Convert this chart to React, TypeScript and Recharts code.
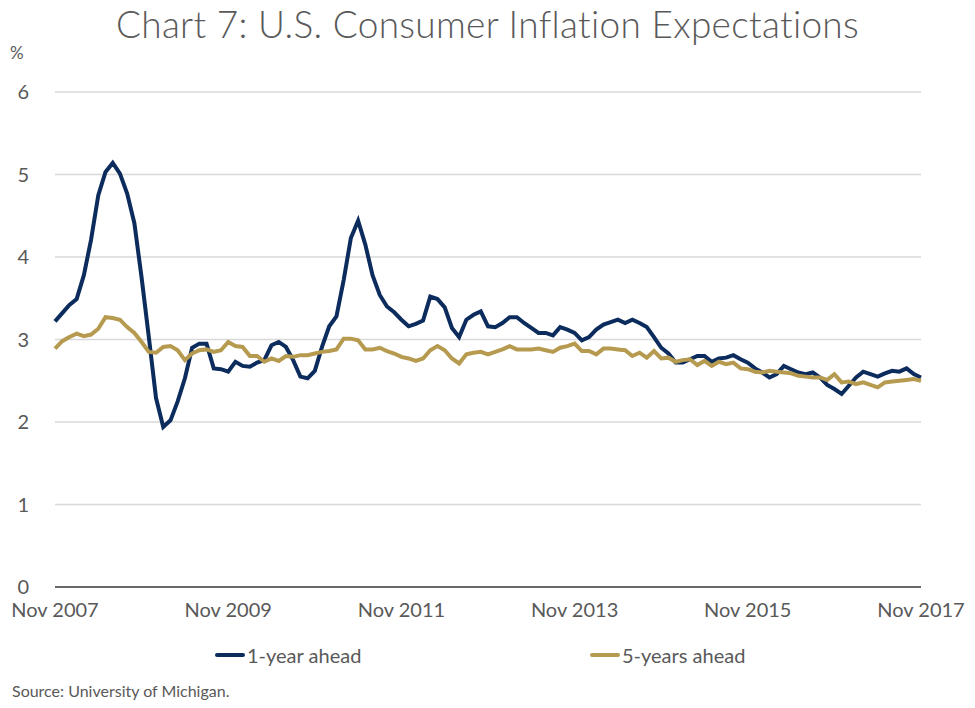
import { LineChart, Line, XAxis, YAxis, CartesianGrid } from 'recharts'

// monthly, Nov 2007 .. Nov 2017
const START_YEAR = 2007
const MONTH_NAMES = ['Jan', 'Feb', 'Mar', 'Apr', 'May', 'Jun', 'Jul', 'Aug', 'Sep', 'Oct', 'Nov', 'Dec']
const MONTHS: string[] = []
for (let i = 0; i <= 120; i++) {
  const m = (10 + i) % 12
  const y = START_YEAR + Math.floor((10 + i) / 12)
  MONTHS.push(`${MONTH_NAMES[m]} ${y}`)
}

const X_TICKS = ['Nov 2007', 'Nov 2009', 'Nov 2011', 'Nov 2013', 'Nov 2015', 'Nov 2017']
const Y_TICKS = [0, 1, 2, 3, 4, 5, 6]

const ONE_YEAR = [
  3.22, 3.32, 3.42, 3.49, 3.78, 4.21, 4.75, 5.03, 5.14, 5.01, 4.77, 4.41, 3.75, 3.03, 2.29, 1.94,
  2.02, 2.25, 2.53, 2.9, 2.95, 2.95, 2.65, 2.64, 2.61, 2.73, 2.68, 2.67, 2.72, 2.75, 2.93, 2.97,
  2.91, 2.75, 2.55, 2.53, 2.62, 2.91, 3.16, 3.28, 3.72, 4.23, 4.44, 4.15, 3.78, 3.54, 3.4, 3.33,
  3.24, 3.16, 3.19, 3.23, 3.52, 3.49, 3.39, 3.14, 3.03, 3.24, 3.3, 3.34, 3.16, 3.15, 3.2, 3.27,
  3.27, 3.2, 3.14, 3.08, 3.08, 3.05, 3.15, 3.12, 3.08, 2.99, 3.03, 3.12, 3.18, 3.21, 3.24, 3.2,
  3.24, 3.2, 3.15, 3.03, 2.9, 2.83, 2.72, 2.72, 2.76, 2.8, 2.8, 2.73, 2.77, 2.78, 2.81, 2.76,
  2.72, 2.65, 2.6, 2.54, 2.58, 2.68, 2.64, 2.6, 2.58, 2.6, 2.54, 2.45, 2.4, 2.34, 2.44, 2.54,
  2.61, 2.58, 2.55, 2.59, 2.62, 2.61, 2.65, 2.58, 2.54,
]

const FIVE_YEARS = [
  2.89, 2.98, 3.03, 3.07, 3.04, 3.06, 3.13, 3.27, 3.26, 3.24, 3.15, 3.08, 2.97, 2.85, 2.84, 2.91,
  2.92, 2.87, 2.75, 2.83, 2.87, 2.88, 2.85, 2.87, 2.97, 2.92, 2.91, 2.8, 2.8, 2.73, 2.77, 2.74,
  2.8, 2.79, 2.81, 2.81, 2.83, 2.85, 2.86, 2.88, 3.01, 3.01, 2.99, 2.88, 2.88, 2.9, 2.86, 2.83,
  2.79, 2.77, 2.74, 2.77, 2.87, 2.92, 2.87, 2.77, 2.71, 2.82, 2.84, 2.85, 2.82, 2.85, 2.88, 2.92,
  2.88, 2.88, 2.88, 2.89, 2.87, 2.85, 2.9, 2.92, 2.95, 2.86, 2.86, 2.82, 2.89, 2.89, 2.88, 2.87,
  2.8, 2.84, 2.78, 2.86, 2.77, 2.78, 2.73, 2.75, 2.76, 2.69, 2.74, 2.68, 2.73, 2.7, 2.72, 2.65,
  2.64, 2.61, 2.6, 2.62, 2.61, 2.6, 2.59, 2.56, 2.55, 2.54, 2.54, 2.51, 2.58, 2.48, 2.49, 2.46,
  2.48, 2.45, 2.42, 2.48, 2.49, 2.5, 2.51, 2.52, 2.5,
]

const BLUE = '#0b2c5c'
const GOLD = '#b59a50'
const TEXT = '#595959'
const FONT = 'Lato, "Open Sans", sans-serif'

const data = MONTHS.map((month, i) => ({ month, oneYear: ONE_YEAR[i], fiveYears: FIVE_YEARS[i] }))

function LegendItem({ color, label, left }: { color: string; label: string; left: number }) {
  return (
    <div style={{ position: 'absolute', left, top: 642, height: 26, display: 'flex', alignItems: 'center' }}>
      <span style={{ width: 30, height: 4, borderRadius: 2, background: color, display: 'inline-block' }} />
      <span style={{ marginLeft: 2, fontSize: 20, color: TEXT }}>{label}</span>
    </div>
  )
}

export default function App() {
  return (
    <div style={{ position: 'absolute', left: 0, top: 0, width: 975, height: 708, background: '#fff', fontFamily: FONT }}>
      <div style={{ position: 'absolute', left: 0, top: 2, width: 975, textAlign: 'center', fontSize: 37, color: TEXT, lineHeight: '44px', fontWeight: 300, letterSpacing: 0.3 }}>
        Chart 7: U.S. Consumer Inflation Expectations
      </div>
      <div style={{ position: 'absolute', left: 10, top: 42, fontSize: 17, color: TEXT }}>%</div>
      <LineChart width={975} height={708} data={data} margin={{ top: 92, right: 54, bottom: 91, left: 0 }}>
        <CartesianGrid vertical={false} stroke="#d9d9d9" strokeWidth={1.5} />
        <XAxis
          dataKey="month"
          ticks={X_TICKS}
          interval={0}
          tickLine={false}
          axisLine={{ stroke: '#404040', strokeWidth: 1.5 }}
          tick={{ fill: TEXT, fontSize: 20, fontFamily: FONT }}
          tickMargin={10}
        />
        <YAxis
          width={55}
          domain={[0, 6]}
          ticks={Y_TICKS}
          axisLine={false}
          tickLine={false}
          tick={{ fill: TEXT, fontSize: 20, fontFamily: FONT }}
          tickMargin={20}
        />
        <Line dataKey="oneYear" stroke={BLUE} strokeWidth={4} dot={false} isAnimationActive={false} />
        <Line dataKey="fiveYears" stroke={GOLD} strokeWidth={4} dot={false} isAnimationActive={false} />
      </LineChart>
      <LegendItem color={BLUE} label="1-year ahead" left={215} />
      <LegendItem color={GOLD} label="5-years ahead" left={590} />
      <div style={{ position: 'absolute', left: 12, top: 681, fontSize: 16, color: TEXT }}>Source: University of Michigan.</div>
    </div>
  )
}
